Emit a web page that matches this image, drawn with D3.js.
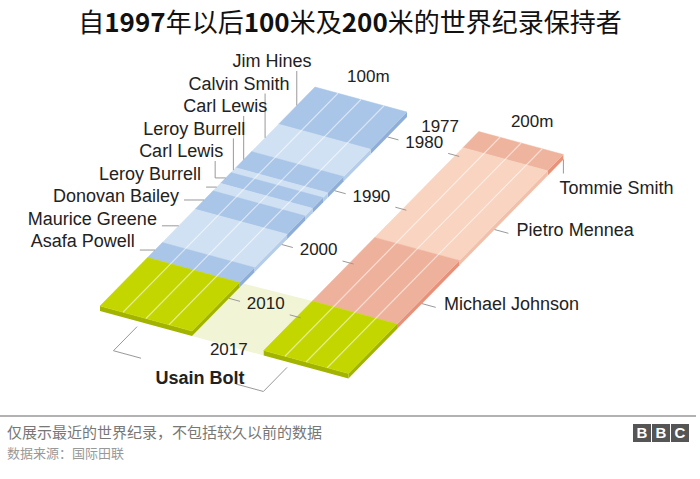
<!DOCTYPE html>
<html>
<head>
<meta charset="utf-8">
<script src="https://cdn.jsdelivr.net/npm/d3@7"></script>
<style>
  body { margin: 0; background: #fff; }
  svg { display: block; }
</style>
</head>
<body>
<div id="chart"></div>
<script>
// record holders and the year each record era starts
const holders100 = ["Jim Hines", "Calvin Smith", "Carl Lewis", "Leroy Burrell", "Carl Lewis",
                    "Leroy Burrell", "Donovan Bailey", "Maurice Greene", "Asafa Powell", "Usain Bolt"];
const from100 = [1976.3, 1983.2, 1988.3, 1991.3, 1992.2, 1994.2, 1995.6, 1999.0, 2005.2, 2008.0];
const holders200 = ["Tommie Smith", "Pietro Mennea", "Michael Johnson", "Usain Bolt"];
const from200 = [1976.3, 1979.3, 1996.0, 2007.8];
const yearTicks = [1977, 1980, 1990, 2000, 2010, 2017];
const lastYear = 2017;

const width = 700, height = 479;
const svg = d3.select("#chart").append("svg")
    .attr("width", width)
    .attr("height", height);

const font = "'Liberation Sans', Arial, sans-serif";
const cjk = "'Noto Sans CJK SC', sans-serif";

// years run along the track
const tScale = d3.scaleLinear().domain([from100[0], lastYear]).range([0, 1]);

// oblique view: u goes across the lanes, t along the track, z is depth under the top face
const origin = [315, 87], across = [92, 25], along = [-215, 219], depth = 5;
function proj(u, t, z) {
    return [origin[0] + across[0] * u + along[0] * t,
            origin[1] + across[1] * u + along[1] * t + (z || 0)];
}
const poly = d3.line();

const green = "#c3d600", greenSide = "#a3b400";
const tracks = [
    {u0: 0, u1: 1, holders: holders100, from: from100,
     fill: (i, n) => i == n - 1 ? green : (i % 2 == 0 ? "#a9c5e7" : "#d0e1f3"),
     side: (i, n) => i == n - 1 ? greenSide : (i % 2 == 0 ? "#8eaed8" : "#b5cde9")},
    {u0: 1.78, u1: 2.7, holders: holders200, from: from200,
     fill: (i, n) => i == n - 1 ? green : ["#eeb49d", "#f8d4c1", "#eeb29c"][i],
     side: (i, n) => i == n - 1 ? greenSide : ["#e8927a", "#f2c0aa", "#e8917a"][i]}
];

// pale floor between the two Usain Bolt sections
svg.append("path")
    .attr("d", poly([proj(1, tScale(from100[9]), 0), proj(1.78, tScale(from200[3]), 0),
                     proj(1.78, 1, depth), proj(1, 1, depth)]) + "Z")
    .attr("fill", "#f1f5d6");

tracks.forEach(tr => {
    let n = tr.holders.length;
    let bands = tr.holders.map((h, i) => ({
        name: h,
        t0: tScale(tr.from[i]),
        t1: tScale(i < n - 1 ? tr.from[i + 1] : lastYear),
        i: i
    }));
    let g = svg.append("g");
    // right side of the slab
    g.selectAll(".side").data(bands).enter().append("path")
        .attr("d", d => poly([proj(tr.u1, d.t0, 0), proj(tr.u1, d.t1, 0),
                              proj(tr.u1, d.t1, depth), proj(tr.u1, d.t0, depth)]) + "Z")
        .attr("fill", d => tr.side(d.i, n));
    // front of the slab
    g.append("path")
        .attr("d", poly([proj(tr.u0, 1, 0), proj(tr.u1, 1, 0),
                         proj(tr.u1, 1, depth), proj(tr.u0, 1, depth)]) + "Z")
        .attr("fill", tr.side(n - 1, n));
    // top faces
    g.selectAll(".top").data(bands).enter().append("path")
        .attr("d", d => poly([proj(tr.u0, d.t0), proj(tr.u1, d.t0),
                              proj(tr.u1, d.t1), proj(tr.u0, d.t1)]) + "Z")
        .attr("fill", d => tr.fill(d.i, n))
        .attr("stroke", d => tr.fill(d.i, n))
        .attr("stroke-width", 0.5);
    // lane lines
    g.selectAll(".lane").data([0.25, 0.5, 0.75]).enter().append("path")
        .attr("d", f => {
            let u = tr.u0 + f * (tr.u1 - tr.u0);
            return poly([proj(u, 0), proj(u, 1)]);
        })
        .attr("stroke", "#fff")
        .attr("stroke-opacity", 0.55)
        .attr("stroke-width", 1.2);
});

// year ticks between the tracks
yearTicks.forEach((yr, i) => {
    let t = tScale(yr);
    if (i > 0 && i < yearTicks.length - 1) {
        svg.append("path")
            .attr("d", poly([proj(1.0, t, depth), proj(1.12, t, depth)]))
            .attr("stroke", "#999").attr("fill", "none");
        svg.append("path")
            .attr("d", poly([proj(1.66, t, depth), proj(1.78, t, depth)]))
            .attr("stroke", "#999").attr("fill", "none");
    }
    let p = proj(1.4, t, i == yearTicks.length - 1 ? 8 : 0);
    svg.append("text")
        .attr("x", p[0]).attr("y", p[1]).attr("dy", "0.35em")
        .attr("text-anchor", "middle")
        .attr("font-family", font).attr("font-size", "17px")
        .attr("fill", "#222")
        .text(yr);
});

// track headers
[["100m", tracks[0]], ["200m", tracks[1]]].forEach(([name, tr]) => {
    let p = proj(tr.u0 + 0.37, -0.09);
    svg.append("text")
        .attr("x", p[0]).attr("y", p[1]).attr("dy", "0.35em")
        .attr("text-anchor", "middle")
        .attr("font-family", font).attr("font-size", "17px")
        .attr("fill", "#222")
        .text(name);
});

// 100m holder labels down the left side
const labelTop = 61, labelStep = 22.5;
function leftEdgeX(y) { return origin[0] + along[0] * (y - origin[1]) / along[1]; }
holders100.slice(0, 9).forEach((h, i) => {
    let ly = labelTop + labelStep * i;
    let right = leftEdgeX(ly) - 29;
    let tm = tScale((from100[i] + from100[i + 1]) / 2);
    let e = proj(0, tm);
    let pts;
    if (e[1] - ly > 14) {
        let vx = Math.min(right - 8, e[0]);
        pts = [[vx, ly + 10], [vx, e[1]], [e[0], e[1]]];
    } else {
        pts = [[right + 5, e[1]], [e[0], e[1]]];
    }
    svg.append("path")
        .attr("d", poly(pts))
        .attr("fill", "none").attr("stroke", "#999").attr("stroke-width", 1);
    svg.append("text")
        .attr("x", right).attr("y", ly).attr("dy", "0.35em")
        .attr("text-anchor", "end")
        .attr("font-family", font).attr("font-size", "18px")
        .attr("fill", "#222")
        .text(h);
});

// 200m holder labels on the right side
holders200.slice(0, 3).forEach((h, i) => {
    let u = tracks[1].u1;
    let tx, ty;
    if (i == 0) {
        let e = proj(u, 0, depth);
        svg.append("path").attr("d", poly([e, [e[0], e[1] + 14]]))
            .attr("stroke", "#999").attr("fill", "none");
        tx = e[0] - 4; ty = e[1] + 28;
    } else {
        let t = tScale(from200[i] + 0.6 * (from200[i + 1] - from200[i]));
        let e = proj(u, t, depth);
        svg.append("path").attr("d", poly([e, proj(u + 0.15, t, depth)]))
            .attr("stroke", "#999").attr("fill", "none");
        tx = e[0] + 22; ty = e[1];
    }
    svg.append("text")
        .attr("x", tx).attr("y", ty).attr("dy", "0.35em")
        .attr("font-family", font).attr("font-size", "18px")
        .attr("fill", "#222")
        .text(h);
});

// Usain Bolt brackets under both tracks
[[0.45, 0.3], [2.08, -0.3]].forEach(([u, du]) => {
    let a = proj(u, 1.02, depth);
    let b = proj(u, 1.13, depth);
    let c = proj(u + du, 1.13, depth);
    svg.append("path").attr("d", poly([a, b, c]))
        .attr("fill", "none").attr("stroke", "#999").attr("stroke-width", 1);
});
let bp = proj(1.465, 1.162);
svg.append("text")
    .attr("x", bp[0]).attr("y", bp[1]).attr("dy", "0.35em")
    .attr("text-anchor", "middle")
    .attr("font-family", font).attr("font-size", "18px")
    .attr("font-weight", "bold")
    .attr("fill", "#222")
    .text("Usain Bolt");

// title
const title = svg.append("text")
    .attr("x", width / 2).attr("y", 32)
    .attr("text-anchor", "middle")
    .attr("font-family", cjk).attr("font-size", "26px")
    .attr("fill", "#111");
[["自", false], ["1997", true], ["年以后", false], ["100", true], ["米及", false],
 ["200", true], ["米的世界纪录保持者", false]].forEach(([s, b]) => {
    title.append("tspan").attr("font-weight", b ? "bold" : "normal").text(s);
});

// footer
svg.append("line")
    .attr("x1", 0).attr("x2", 696).attr("y1", 416).attr("y2", 416)
    .attr("stroke", "#999").attr("stroke-width", 1.5);
svg.append("text")
    .attr("x", 7).attr("y", 438)
    .attr("font-family", cjk).attr("font-size", "15px")
    .attr("fill", "#777")
    .text("仅展示最近的世界纪录，不包括较久以前的数据");
svg.append("text")
    .attr("x", 7).attr("y", 458)
    .attr("font-family", cjk).attr("font-size", "13px")
    .attr("fill", "#999")
    .text("数据来源：国际田联");
["B", "B", "C"].forEach((ch, i) => {
    svg.append("rect")
        .attr("x", 633 + i * 19).attr("y", 424)
        .attr("width", 18).attr("height", 18)
        .attr("fill", "#555");
    svg.append("text")
        .attr("x", 642 + i * 19).attr("y", 438)
        .attr("text-anchor", "middle")
        .attr("font-family", font).attr("font-size", "15px")
        .attr("font-weight", "bold")
        .attr("fill", "#fff")
        .text(ch);
});
</script>
</body>
</html>
